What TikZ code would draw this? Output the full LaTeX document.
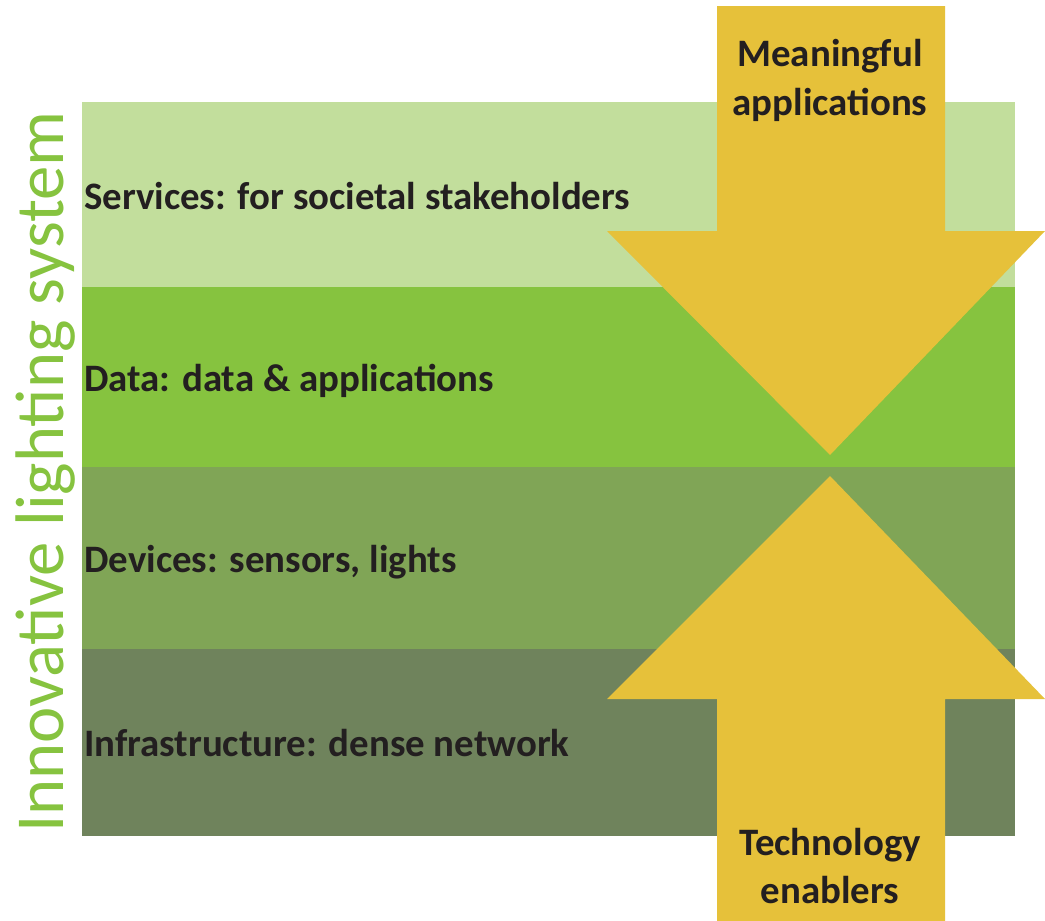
\documentclass[tikz,border=0pt]{standalone}
\usepackage{fontspec}
\setmainfont{Carlito}
\definecolor{servc}{HTML}{C2DE9C}
\definecolor{datac}{HTML}{86C33F}
\definecolor{devc}{HTML}{80A556}
\definecolor{infc}{HTML}{6F835C}
\definecolor{arrc}{HTML}{E6C13A}
\definecolor{txtc}{HTML}{231F20}
\definecolor{vertc}{HTML}{86C33F}
\tikzset{
  laylabel/.style={anchor=base west, inner sep=0pt, text=txtc, font=\fontsize{39}{47}\selectfont\bfseries},
  arrlabel/.style={anchor=base, inner sep=0pt, text=txtc, font=\fontsize{39}{47}\selectfont\bfseries, align=center},
  bigarrow/.style={fill=arrc, draw=none}
}
\begin{document}
\begin{tikzpicture}[x=1bp,y=-1bp]
\useasboundingbox (0,0) rectangle (1045,921);
\fill[white] (0,0) rectangle (1045,921);
% layers
\fill[servc] (82,102) rectangle (1015,287);
\fill[datac] (82,287) rectangle (1015,467);
\fill[devc] (82,467) rectangle (1015,649);
\fill[infc] (82,649) rectangle (1015,836);
\node[laylabel] (serv) at (84,209) {Services: for societal stakeholders};
\node[laylabel] (data) at (84,391) {Data: data \& applications};
\node[laylabel] (dev) at (84,572) {Devices: sensors, lights};
\node[laylabel] (inf) at (84,756) {Infrastructure: dense network};
% arrows
\fill[bigarrow] (717,6) -- (945,6) -- (945,231) -- (1045,231) -- (830,455) -- (607,231) -- (717,231) -- cycle;
\fill[bigarrow] (717,921) -- (945,921) -- (945,699) -- (1045,699) -- (830,476) -- (607,699) -- (717,699) -- cycle;
\node[arrlabel] (mean1) at (830,66) {Meaningful};
\node[arrlabel] (mean2) at (830,115) {applications};
\node[arrlabel] (tech1) at (830,855) {Technology};
\node[arrlabel] (tech2) at (830,903) {enablers};
% vertical title
\node[anchor=base, rotate=90, inner sep=0pt, text=vertc, font=\fontsize{69}{72}\selectfont] (title) at (63,472) {Innovative lighting system};
\end{tikzpicture}
\end{document}
